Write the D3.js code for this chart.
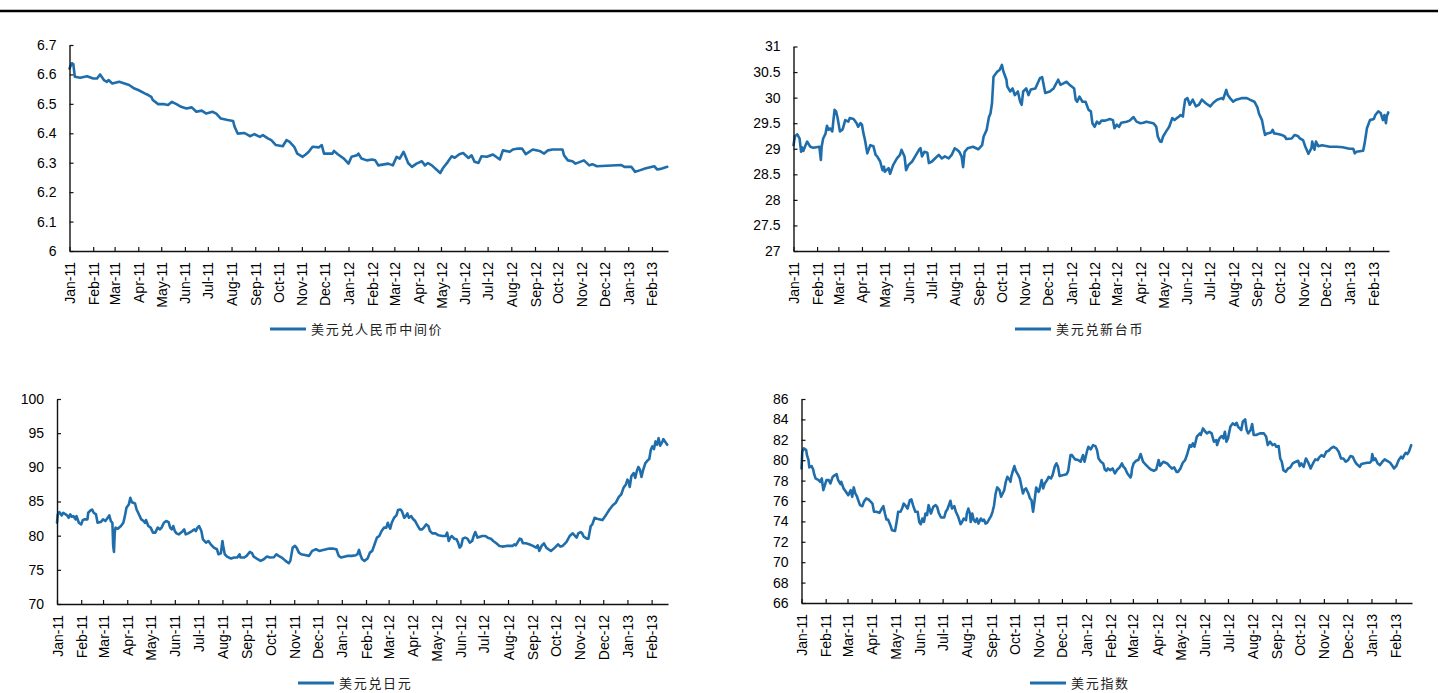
<!DOCTYPE html>
<html><head><meta charset="utf-8">
<script src="https://cdn.jsdelivr.net/npm/d3@7"></script>
<style>
html,body{margin:0;padding:0;background:#fff;}
svg{display:block;}
.tick text{font-family:"Liberation Sans",Arial,sans-serif;font-size:14px;fill:#000;}
.legend text{font-family:"Noto Sans CJK SC",sans-serif;font-size:13px;fill:#222;letter-spacing:1.7px;}
</style></head>
<body>
<script>
// ---------- DATA ----------
const cnyDates = ["11-01-01","11-01-04","11-01-06","11-01-08","11-01-15","11-01-24","11-02-01","11-02-06","11-02-10","11-02-15","11-02-19","11-02-21","11-02-26","11-03-07","11-03-14","11-03-20","11-03-27","11-04-01","11-04-10","11-04-14","11-04-18","11-04-20","11-04-27","11-05-05","11-05-10","11-05-15","11-05-21","11-05-27","11-06-03","11-06-10","11-06-16","11-06-23","11-06-29","11-07-07","11-07-12","11-07-18","11-07-27","11-08-03","11-08-05","11-08-09","11-08-18","11-08-25","11-08-31","11-09-07","11-09-11","11-09-18","11-09-22","11-09-28","11-10-07","11-10-12","11-10-16","11-10-22","11-10-26","11-11-02","11-11-06","11-11-10","11-11-15","11-11-23","11-11-27","11-11-30","11-12-11","11-12-13","11-12-18","11-12-26","12-01-01","12-01-05","12-01-12","12-01-14","12-01-18","12-01-25","12-02-01","12-02-05","12-02-09","12-02-22","12-02-28","12-03-04","12-03-08","12-03-13","12-03-15","12-03-19","12-03-24","12-03-30","12-04-06","12-04-10","12-04-14","12-04-19","12-04-25","12-04-30","12-05-04","12-05-10","12-05-15","12-05-19","12-05-25","12-05-30","12-06-06","12-06-10","12-06-14","12-06-19","12-06-23","12-06-30","12-07-08","12-07-17","12-07-21","12-07-30","12-08-03","12-08-10","12-08-15","12-08-20","12-08-29","12-09-07","12-09-13","12-09-18","12-09-24","12-10-07","12-10-09","12-10-14","12-10-20","12-10-24","12-11-04","12-11-11","12-11-15","12-11-21","12-12-23","12-12-27","13-01-05","13-01-10","13-01-16","13-01-23","13-02-04","13-02-08","13-02-14","13-02-21"];
const cnyValues = [6.620,6.638,6.635,6.592,6.589,6.594,6.586,6.586,6.600,6.581,6.575,6.581,6.569,6.575,6.569,6.564,6.552,6.547,6.535,6.530,6.524,6.513,6.499,6.499,6.496,6.507,6.499,6.490,6.484,6.488,6.473,6.477,6.467,6.473,6.467,6.450,6.445,6.442,6.422,6.399,6.401,6.390,6.397,6.388,6.394,6.382,6.377,6.360,6.356,6.377,6.371,6.354,6.331,6.320,6.328,6.337,6.354,6.352,6.360,6.331,6.331,6.340,6.329,6.314,6.297,6.320,6.325,6.331,6.314,6.308,6.311,6.308,6.291,6.297,6.291,6.320,6.314,6.337,6.325,6.299,6.286,6.297,6.305,6.291,6.299,6.291,6.277,6.265,6.283,6.303,6.322,6.317,6.329,6.333,6.316,6.325,6.303,6.299,6.322,6.320,6.328,6.311,6.342,6.337,6.345,6.348,6.348,6.329,6.345,6.340,6.331,6.342,6.345,6.345,6.325,6.308,6.305,6.297,6.308,6.291,6.295,6.288,6.292,6.286,6.286,6.269,6.274,6.280,6.288,6.277,6.280,6.286];

const twdDates = ["11-01-01","11-01-03","11-01-06","11-01-09","11-01-11","11-01-12","11-01-14","11-01-16","11-01-19","11-01-23","11-01-27","11-02-04","11-02-06","11-02-07","11-02-09","11-02-12","11-02-14","11-02-16","11-02-18","11-02-21","11-02-23","11-02-24","11-02-26","11-02-28","11-03-03","11-03-06","11-03-07","11-03-10","11-03-14","11-03-16","11-03-21","11-03-25","11-03-27","11-03-30","11-04-01","11-04-03","11-04-05","11-04-08","11-04-12","11-04-16","11-04-19","11-04-21","11-04-25","11-04-28","11-04-30","11-05-01","11-05-06","11-05-08","11-05-12","11-05-17","11-05-21","11-05-23","11-05-27","11-05-29","11-06-01","11-06-06","11-06-10","11-06-15","11-06-17","11-06-19","11-06-22","11-06-26","11-06-28","11-07-02","11-07-06","11-07-11","11-07-15","11-07-19","11-07-24","11-07-28","11-08-01","11-08-04","11-08-07","11-08-10","11-08-12","11-08-14","11-08-18","11-08-25","11-09-01","11-09-06","11-09-08","11-09-12","11-09-15","11-09-17","11-09-19","11-09-21","11-09-26","11-09-29","11-10-02","11-10-04","11-10-08","11-10-09","11-10-13","11-10-16","11-10-19","11-10-23","11-10-26","11-10-28","11-10-30","11-11-03","11-11-06","11-11-09","11-11-15","11-11-21","11-11-24","11-11-28","11-12-04","11-12-09","11-12-15","11-12-18","11-12-22","11-12-26","11-12-30","12-01-05","12-01-07","12-01-09","12-01-12","12-01-16","12-01-20","12-01-24","12-01-27","12-01-29","12-02-01","12-02-04","12-02-07","12-02-10","12-02-15","12-02-21","12-02-25","12-02-27","12-03-01","12-03-04","12-03-07","12-03-14","12-03-18","12-03-23","12-03-27","12-04-01","12-04-05","12-04-09","12-04-18","12-04-20","12-04-22","12-04-24","12-04-27","12-04-29","12-05-01","12-05-05","12-05-09","12-05-13","12-05-16","12-05-20","12-05-22","12-05-24","12-05-27","12-05-28","12-05-30","12-06-02","12-06-05","12-06-09","12-06-13","12-06-17","12-06-21","12-06-26","12-07-02","12-07-06","12-07-11","12-07-17","12-07-19","12-07-23","12-07-25","12-07-28","12-08-01","12-08-05","12-08-12","12-08-19","12-08-23","12-08-29","12-09-02","12-09-04","12-09-08","12-09-10","12-09-12","12-09-15","12-09-20","12-09-22","12-09-24","12-09-29","12-10-04","12-10-08","12-10-10","12-10-17","12-10-21","12-10-25","12-10-28","12-11-01","12-11-04","12-11-08","12-11-12","12-11-13","12-11-16","12-11-18","12-11-21","12-11-26","12-12-06","12-12-15","12-12-23","13-01-01","13-01-06","13-01-08","13-01-10","13-01-19","13-01-21","13-01-24","13-01-28","13-02-02","13-02-04","13-02-08","13-02-11","13-02-14","13-02-16","13-02-18","13-02-19","13-02-21"];
const twdValues = [29.07,29.25,29.28,29.20,28.94,29.03,28.96,29.04,29.14,29.04,29.02,29.04,28.78,29.04,29.20,29.29,29.45,29.37,29.40,29.34,29.63,29.76,29.73,29.60,29.34,29.37,29.40,29.56,29.53,29.60,29.58,29.50,29.43,29.50,29.47,29.30,29.17,28.91,29.07,29.05,28.88,28.85,28.75,28.58,28.65,28.55,28.62,28.51,28.68,28.81,28.88,28.98,28.85,28.58,28.68,28.75,28.85,28.98,29.01,28.85,28.94,28.92,28.72,28.75,28.81,28.88,28.81,28.85,28.81,28.88,29.01,28.98,28.94,28.85,28.64,28.94,29.01,29.04,28.99,29.07,29.24,29.37,29.62,29.69,29.89,30.41,30.51,30.54,30.64,30.51,30.35,30.22,30.12,30.18,30.05,30.12,29.92,29.86,30.12,30.18,30.05,30.16,30.18,30.38,30.40,30.09,30.12,30.18,30.35,30.25,30.28,30.31,30.25,30.18,29.96,29.92,30.02,29.92,29.92,29.76,29.73,29.50,29.43,29.53,29.49,29.55,29.55,29.58,29.56,29.40,29.47,29.43,29.51,29.53,29.55,29.62,29.53,29.50,29.51,29.53,29.50,29.47,29.43,29.24,29.14,29.14,29.24,29.34,29.43,29.60,29.56,29.61,29.63,29.66,29.63,29.76,29.96,29.99,29.86,29.96,29.83,29.86,29.96,29.89,29.83,29.90,29.96,29.99,29.97,30.15,30.05,29.99,29.92,29.96,29.99,29.99,29.96,29.92,29.81,29.69,29.56,29.40,29.27,29.30,29.32,29.37,29.30,29.29,29.27,29.24,29.19,29.20,29.27,29.25,29.20,29.17,29.04,28.90,29.01,29.14,28.98,29.14,29.05,29.07,29.04,29.04,29.03,29.00,29.00,28.91,28.94,28.96,29.11,29.40,29.56,29.58,29.66,29.73,29.70,29.56,29.66,29.50,29.63,29.71];

const jpyDates = ["11-01-01","11-01-02","11-01-04","11-01-07","11-01-09","11-01-14","11-01-16","11-01-18","11-01-20","11-01-22","11-01-25","11-01-26","11-01-29","11-02-01","11-02-03","11-02-05","11-02-09","11-02-10","11-02-13","11-02-15","11-02-17","11-02-20","11-02-22","11-02-26","11-03-01","11-03-04","11-03-07","11-03-09","11-03-11","11-03-13","11-03-14","11-03-15","11-03-16","11-03-17","11-03-20","11-03-24","11-03-27","11-03-29","11-03-31","11-04-03","11-04-05","11-04-07","11-04-11","11-04-13","11-04-15","11-04-19","11-04-22","11-04-24","11-04-25","11-04-28","11-05-01","11-05-04","11-05-07","11-05-10","11-05-13","11-05-15","11-05-18","11-05-21","11-05-24","11-05-26","11-05-28","11-05-30","11-06-01","11-06-03","11-06-06","11-06-10","11-06-13","11-06-15","11-06-18","11-06-23","11-06-26","11-06-28","11-06-30","11-07-02","11-07-05","11-07-07","11-07-11","11-07-14","11-07-17","11-07-21","11-07-25","11-07-27","11-07-30","11-08-01","11-08-02","11-08-04","11-08-07","11-08-12","11-08-16","11-08-20","11-08-23","11-08-24","11-08-29","11-09-01","11-09-05","11-09-08","11-09-10","11-09-14","11-09-19","11-09-23","11-09-27","11-10-01","11-10-06","11-10-09","11-10-12","11-10-16","11-10-21","11-10-25","11-10-27","11-10-30","11-11-02","11-11-04","11-11-07","11-11-10","11-11-16","11-11-20","11-11-24","11-11-29","11-12-03","11-12-08","11-12-12","11-12-16","11-12-20","11-12-25","11-12-28","11-12-31","12-01-08","12-01-14","12-01-19","12-01-21","12-01-23","12-01-25","12-01-27","12-01-30","12-02-03","12-02-06","12-02-09","12-02-12","12-02-15","12-02-18","12-02-21","12-02-24","12-02-27","12-02-29","12-03-01","12-03-03","12-03-05","12-03-08","12-03-11","12-03-13","12-03-16","12-03-18","12-03-21","12-03-23","12-03-25","12-03-27","12-03-30","12-04-01","12-04-04","12-04-07","12-04-10","12-04-13","12-04-15","12-04-18","12-04-21","12-04-23","12-04-26","12-04-30","12-05-04","12-05-09","12-05-13","12-05-15","12-05-17","12-05-19","12-05-21","12-05-24","12-05-27","12-05-29","12-05-31","12-06-02","12-06-04","12-06-07","12-06-10","12-06-13","12-06-16","12-06-18","12-06-20","12-06-23","12-06-26","12-06-29","12-07-03","12-07-06","12-07-10","12-07-13","12-07-17","12-07-21","12-07-25","12-07-30","12-08-03","12-08-07","12-08-09","12-08-11","12-08-16","12-08-18","12-08-20","12-08-24","12-08-28","12-09-02","12-09-06","12-09-08","12-09-10","12-09-13","12-09-16","12-09-19","12-09-23","12-09-25","12-09-30","12-10-04","12-10-07","12-10-10","12-10-15","12-10-19","12-10-23","12-10-26","12-10-28","12-10-30","12-11-02","12-11-04","12-11-06","12-11-10","12-11-12","12-11-15","12-11-17","12-11-20","12-11-23","12-11-27","12-11-30","12-12-03","12-12-05","12-12-09","12-12-13","12-12-17","12-12-21","12-12-24","12-12-27","12-12-30","13-01-01","13-01-03","13-01-04","13-01-06","13-01-09","13-01-11","13-01-13","13-01-15","13-01-17","13-01-19","13-01-21","13-01-24","13-01-27","13-01-29","13-01-31","13-02-02","13-02-04","13-02-06","13-02-08","13-02-10","13-02-12","13-02-15","13-02-16","13-02-19","13-02-21"];
const jpyValues = [81.89,83.11,83.45,82.96,83.35,82.96,82.62,83.11,82.77,82.86,82.38,82.86,81.89,81.65,82.28,82.38,82.38,83.35,83.69,83.83,83.35,83.11,81.89,81.99,82.38,82.14,82.62,82.96,82.14,81.89,78.50,77.62,80.44,81.17,81.02,81.41,81.89,82.86,84.08,84.56,85.53,84.90,84.71,83.83,83.35,82.38,82.14,81.89,82.28,81.41,81.17,80.44,80.44,81.17,80.92,81.17,81.89,82.14,81.99,81.17,80.92,81.41,80.68,80.34,80.19,80.53,80.92,80.19,80.34,80.68,80.92,80.68,81.17,81.41,80.68,79.47,78.98,79.22,78.74,78.25,78.01,77.28,77.43,79.22,78.50,77.28,76.94,76.65,76.80,76.80,77.28,76.80,76.80,77.04,77.62,77.43,76.94,76.65,76.31,76.55,76.94,76.80,76.85,77.28,77.04,76.80,76.31,75.97,76.31,78.25,78.50,78.25,77.52,77.28,77.14,77.04,77.77,78.01,77.77,77.91,78.01,78.11,78.11,78.01,77.04,76.80,77.04,77.04,77.14,77.28,77.91,77.14,76.55,76.31,76.65,77.52,77.77,78.74,79.71,79.95,80.68,81.17,81.17,81.89,81.50,81.02,81.89,82.62,82.96,83.74,83.83,83.59,82.62,82.86,83.25,82.62,82.86,82.48,82.14,81.50,80.92,80.92,81.17,81.65,81.41,80.68,80.34,80.34,80.05,79.95,79.95,80.44,79.22,79.71,79.95,79.56,79.47,78.98,78.25,78.50,79.56,79.71,79.56,78.98,79.22,79.95,80.53,79.71,79.85,79.95,79.95,79.71,79.56,79.22,78.88,78.50,78.40,78.50,78.50,78.50,78.74,78.59,79.56,79.47,78.88,78.88,78.74,78.50,78.25,78.59,77.77,78.50,78.88,78.25,77.91,77.77,78.25,78.74,78.40,78.50,79.08,79.95,80.34,79.95,79.71,80.34,80.53,80.34,79.85,79.56,79.56,81.41,81.65,82.62,82.48,82.38,82.28,82.77,83.11,83.83,84.42,84.81,85.68,86.02,87.00,87.48,88.20,87.72,87.14,88.69,89.17,88.45,89.42,90.05,89.66,88.59,89.56,90.63,91.02,91.21,92.57,93.06,92.67,93.79,93.30,94.27,93.16,93.79,94.13,93.64,93.30];

const dxyDates = ["11-01-01","11-01-02","11-01-04","11-01-07","11-01-08","11-01-10","11-01-11","11-01-14","11-01-16","11-01-17","11-01-19","11-01-23","11-01-25","11-01-27","11-01-29","11-02-02","11-02-05","11-02-07","11-02-10","11-02-13","11-02-15","11-02-17","11-02-20","11-02-21","11-02-24","11-02-27","11-03-02","11-03-05","11-03-07","11-03-09","11-03-11","11-03-13","11-03-17","11-03-20","11-03-22","11-03-25","11-03-28","11-03-31","11-04-02","11-04-04","11-04-07","11-04-11","11-04-14","11-04-16","11-04-18","11-04-20","11-04-22","11-04-25","11-04-27","11-05-01","11-05-03","11-05-05","11-05-08","11-05-10","11-05-12","11-05-14","11-05-17","11-05-20","11-05-22","11-05-24","11-05-27","11-05-30","11-06-01","11-06-03","11-06-05","11-06-07","11-06-09","11-06-11","11-06-13","11-06-16","11-06-19","11-06-22","11-06-24","11-06-26","11-06-29","11-07-03","11-07-05","11-07-07","11-07-09","11-07-11","11-07-13","11-07-16","11-07-18","11-07-21","11-07-24","11-07-26","11-07-28","11-07-31","11-08-01","11-08-03","11-08-05","11-08-06","11-08-08","11-08-10","11-08-12","11-08-14","11-08-16","11-08-19","11-08-21","11-08-23","11-08-25","11-08-27","11-08-29","11-09-01","11-09-03","11-09-05","11-09-07","11-09-09","11-09-12","11-09-14","11-09-16","11-09-18","11-09-20","11-09-22","11-09-25","11-09-26","11-09-27","11-09-29","11-10-01","11-10-03","11-10-06","11-10-08","11-10-10","11-10-12","11-10-14","11-10-16","11-10-19","11-10-21","11-10-23","11-10-25","11-10-27","11-10-29","11-11-01","11-11-02","11-11-05","11-11-07","11-11-09","11-11-12","11-11-14","11-11-17","11-11-19","11-11-22","11-11-24","11-11-26","11-11-28","11-12-03","11-12-07","11-12-09","11-12-12","11-12-14","11-12-16","11-12-18","11-12-22","11-12-25","11-12-28","11-12-30","12-01-02","12-01-04","12-01-07","12-01-10","12-01-13","12-01-15","12-01-17","12-01-20","12-01-23","12-01-25","12-01-27","12-01-29","12-02-01","12-02-04","12-02-07","12-02-10","12-02-13","12-02-16","12-02-18","12-02-20","12-02-23","12-02-27","12-02-28","12-02-29","12-03-02","12-03-05","12-03-08","12-03-11","12-03-14","12-03-16","12-03-18","12-03-21","12-03-24","12-03-28","12-03-31","12-04-03","12-04-05","12-04-09","12-04-12","12-04-14","12-04-17","12-04-20","12-04-23","12-04-26","12-04-28","12-05-01","12-05-04","12-05-07","12-05-10","12-05-13","12-05-15","12-05-17","12-05-19","12-05-22","12-05-26","12-05-27","12-05-30","12-06-02","12-06-04","12-06-07","12-06-10","12-06-13","12-06-16","12-06-17","12-06-20","12-06-23","12-06-25","12-06-27","12-06-29","12-07-01","12-07-04","12-07-07","12-07-10","12-07-12","12-07-14","12-07-16","12-07-18","12-07-20","12-07-23","12-07-25","12-07-27","12-07-30","12-08-01","12-08-03","12-08-06","12-08-11","12-08-16","12-08-19","12-08-21","12-08-24","12-08-27","12-08-30","12-09-01","12-09-04","12-09-06","12-09-08","12-09-10","12-09-13","12-09-16","12-09-19","12-09-22","12-09-26","12-09-29","12-10-01","12-10-03","12-10-06","12-10-09","12-10-12","12-10-15","12-10-18","12-10-21","12-10-24","12-10-26","12-10-29","12-11-01","12-11-04","12-11-07","12-11-10","12-11-13","12-11-17","12-11-20","12-11-23","12-11-26","12-11-29","12-12-02","12-12-05","12-12-08","12-12-11","12-12-13","12-12-17","12-12-19","12-12-22","12-12-26","12-12-30","13-01-01","13-01-02","13-01-04","13-01-06","13-01-09","13-01-12","13-01-15","13-01-18","13-01-21","13-01-23","13-01-25","13-01-28","13-01-30","13-02-02","13-02-05","13-02-08","13-02-10","13-02-12","13-02-14","13-02-16","13-02-18","13-02-21"];
const dxyValues = [79.19,80.83,81.16,80.99,80.50,80.01,79.29,79.42,79.09,78.70,78.21,78.05,77.88,78.21,77.06,78.05,78.05,77.72,78.37,78.54,78.63,78.05,77.65,77.88,77.23,76.90,76.57,77.06,76.41,77.33,76.74,76.47,75.59,75.49,75.92,76.25,76.15,75.92,75.75,74.94,74.94,74.84,75.26,75.49,74.77,74.18,74.18,73.63,73.14,73.07,73.95,74.94,74.94,75.26,75.75,75.59,75.26,76.08,76.15,75.59,74.94,74.94,73.95,73.73,74.28,73.95,74.77,74.61,75.59,74.77,75.43,75.59,75.43,74.84,74.38,74.38,74.94,75.17,75.59,76.02,75.26,75.49,74.94,74.45,73.73,73.95,74.28,74.12,74.77,75.26,74.77,73.95,74.77,74.12,73.95,74.28,73.79,74.28,74.05,74.18,73.79,73.86,74.12,74.51,74.94,75.59,76.74,77.33,77.06,76.41,76.74,77.06,77.88,78.37,78.05,77.88,78.37,78.93,79.42,78.93,78.54,78.21,77.46,76.74,77.13,77.23,76.74,76.25,76.08,74.94,76.08,77.33,76.90,77.06,78.05,77.23,77.72,78.05,78.37,78.21,78.54,79.42,79.68,79.35,78.44,78.54,78.63,78.93,80.50,80.50,80.27,80.08,80.01,79.85,80.50,79.85,80.83,81.32,81.06,81.48,81.38,80.99,80.17,79.85,79.68,79.09,78.96,79.19,79.03,79.19,78.70,79.09,79.29,79.68,79.35,79.19,78.70,78.31,78.54,79.19,79.68,79.94,80.01,80.60,79.85,79.68,79.52,79.29,79.09,78.96,79.09,80.01,79.45,79.85,79.75,79.68,79.42,79.19,79.29,78.86,78.86,79.19,79.75,80.01,80.66,81.48,81.32,81.65,81.32,82.30,82.63,82.47,83.12,82.79,82.63,82.79,82.63,81.81,81.97,81.48,82.14,82.37,82.14,82.79,81.81,82.14,83.28,83.61,83.45,83.67,83.28,83.12,82.96,83.77,84.00,82.96,82.63,82.96,83.55,82.47,82.47,82.63,82.63,82.30,81.48,81.81,81.48,81.58,81.32,81.38,80.17,79.85,79.03,78.86,79.19,79.29,79.68,79.85,79.94,79.42,79.68,79.35,80.17,79.75,79.19,79.68,80.08,80.01,80.27,80.50,80.34,80.83,80.93,81.16,81.32,81.16,80.83,80.17,80.17,79.85,80.01,80.40,80.34,79.85,79.62,79.35,79.62,79.68,79.75,79.75,79.94,80.60,80.01,80.17,79.68,79.52,79.85,80.08,79.94,79.85,79.75,79.42,79.19,79.45,80.01,80.34,80.17,80.50,80.73,80.60,80.83,81.48];

const cnyTicks = [6, 6.1, 6.2, 6.3, 6.4, 6.5, 6.6, 6.7];
const twdTicks = [27, 27.5, 28, 28.5, 29, 29.5, 30, 30.5, 31];
const jpyTicks = [70, 75, 80, 85, 90, 95, 100];
const dxyTicks = [66, 68, 70, 72, 74, 76, 78, 80, 82, 84, 86];
const seriesNames = ["美元兑人民币中间价", "美元兑新台币", "美元兑日元", "美元指数"];
const axisStart = "11-01-01", axisEnd = "13-02-22";

// ---------- DRAW ----------
const W = 1443, H = 693;
const parse = d3.timeParse("%y-%m-%d");
const fmtMonth = d3.timeFormat("%b-%y");
const lineColor = "#1f6eab";
const svg = d3.select("body").append("svg").attr("width", W).attr("height", H);

svg.append("line").attr("x1", 0).attr("x2", 1438).attr("y1", 11).attr("y2", 11)
  .attr("stroke", "#000").attr("stroke-width", 2.5);

const x0 = parse(axisStart), x1 = parse(axisEnd);
const monthTicks = d3.timeMonth.range(x0, d3.timeDay.offset(x1, 1));

const panels = [
  {dates: cnyDates, values: cnyValues, ticks: cnyTicks, name: seriesNames[0], l: 69.5, r: 668, t: 45, b: 251, lx: 270, ly: 329},
  {dates: twdDates, values: twdValues, ticks: twdTicks, name: seriesNames[1], l: 793.5, r: 1389, t: 46.5, b: 251, lx: 1015, ly: 329},
  {dates: jpyDates, values: jpyValues, ticks: jpyTicks, name: seriesNames[2], l: 57, r: 668, t: 399, b: 604, lx: 298, ly: 683},
  {dates: dxyDates, values: dxyValues, ticks: dxyTicks, name: seriesNames[3], l: 801.5, r: 1412, t: 399, b: 603, lx: 1030, ly: 683}
];

panels.forEach(p => {
  const x = d3.scaleTime().domain([x0, x1]).range([p.l, p.r]);
  const y = d3.scaleLinear().domain([p.ticks[0], p.ticks[p.ticks.length - 1]]).range([p.b, p.t]);
  const g = svg.append("g");

  const data = p.dates.map((d, i) => ({date: parse(d), v: p.values[i]}));
  g.append("path").datum(data)
    .attr("fill", "none").attr("stroke", lineColor).attr("stroke-width", 2.6)
    .attr("stroke-linejoin", "round").attr("stroke-linecap", "round")
    .attr("d", d3.line().x(d => x(d.date)).y(d => y(d.v)));

  const xa = g.append("g").attr("transform", `translate(0,${p.b})`)
    .call(d3.axisBottom(x).tickValues(monthTicks).tickFormat(fmtMonth).tickSizeInner(-4).tickSizeOuter(0));
  xa.selectAll("text").attr("transform", "rotate(-90)").attr("text-anchor", "end")
    .attr("x", -11).attr("y", 0).attr("dy", "0.36em");

  const ya = g.append("g").attr("transform", `translate(${p.l},0)`)
    .call(d3.axisLeft(y).tickValues(p.ticks).tickFormat(d => String(d)).tickSizeInner(-4).tickSizeOuter(0).tickPadding(13));

  [xa, ya].forEach(a => {
    a.select(".domain").attr("stroke", "#111").attr("stroke-width", 1.4);
    a.selectAll(".tick line").attr("stroke", "#111").attr("stroke-width", 1.2);
  });

  const lg = g.append("g").attr("class", "legend");
  lg.append("line").attr("x1", p.lx).attr("x2", p.lx + 36).attr("y1", p.ly).attr("y2", p.ly)
    .attr("stroke", lineColor).attr("stroke-width", 3);
  lg.append("text").attr("x", p.lx + 41).attr("y", p.ly).attr("dy", "0.36em").text(p.name);
});
</script>
</body></html>
